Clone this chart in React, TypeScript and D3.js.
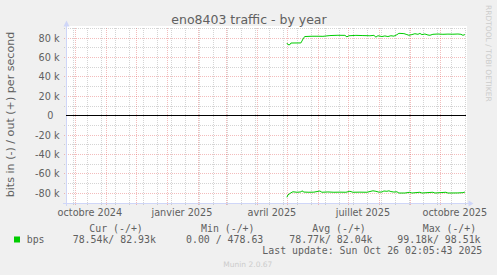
import React from "react";
import * as d3 from "d3";

const W = 497;
const H = 275;

const startTime = new Date(2024, 8, 21, 2, 5, 43);
const endTime = new Date(2025, 9, 26, 2, 5, 43);

// out (+) series, bits per second
const outDates = [
  "2025-04-30", "2025-05-01", "2025-05-03", "2025-05-04", "2025-05-14", "2025-05-15",
  "2025-05-17", "2025-05-18", "2025-05-25", "2025-06-01", "2025-06-05", "2025-06-12",
  "2025-06-20", "2025-06-27", "2025-06-29", "2025-07-01", "2025-07-08", "2025-07-15",
  "2025-07-22", "2025-07-26", "2025-07-28", "2025-07-30", "2025-08-03", "2025-08-06",
  "2025-08-09", "2025-08-12", "2025-08-15", "2025-08-18", "2025-08-20", "2025-08-25",
  "2025-08-28", "2025-08-30", "2025-09-02", "2025-09-05", "2025-09-08", "2025-09-10",
  "2025-09-12", "2025-09-15", "2025-09-18", "2025-09-20", "2025-09-23", "2025-09-28",
  "2025-10-03", "2025-10-08", "2025-10-13", "2025-10-18", "2025-10-21", "2025-10-23",
  "2025-10-25",
];
const outValues = [
  75000, 73300, 73300, 75000, 75100, 77000,
  80800, 81700, 82000, 82000, 81900, 82700,
  83000, 82900, 81400, 82500, 82900, 82700,
  82500, 82900, 81100, 82500, 81700, 82300,
  81700, 82500, 82100, 83600, 85000, 84700,
  83700, 83000, 83700, 84600, 84000, 84900,
  83700, 84300, 83300, 83000, 84000, 84300,
  84000, 84200, 84100, 84300, 84000, 83000,
  83700,
];

// in (-) series, bits per second (drawn below zero)
const inDates = [
  "2025-04-30", "2025-05-01", "2025-05-04", "2025-05-06", "2025-05-10", "2025-05-14",
  "2025-05-15", "2025-05-17", "2025-05-22", "2025-05-27", "2025-06-02", "2025-06-04",
  "2025-06-10", "2025-06-16", "2025-06-22", "2025-06-28", "2025-07-02", "2025-07-05",
  "2025-07-12", "2025-07-19", "2025-07-25", "2025-07-28", "2025-07-31", "2025-08-03",
  "2025-08-05", "2025-08-08", "2025-08-10", "2025-08-12", "2025-08-15", "2025-08-18",
  "2025-08-20", "2025-08-26", "2025-08-31", "2025-09-02", "2025-09-10", "2025-09-12",
  "2025-09-23", "2025-09-25", "2025-10-06", "2025-10-08", "2025-10-18", "2025-10-23",
  "2025-10-25",
];
const inValues = [
  84100, 81700, 79500, 78400, 78900, 78600,
  77400, 78700, 78900, 78800, 77600, 78900,
  78600, 78900, 78800, 78900, 77900, 78900,
  78800, 78900, 77400, 77900, 78800, 78600,
  77600, 77900, 77400, 78200, 78700, 78400,
  79700, 79700, 78900, 79700, 78900, 79700,
  78900, 79700, 78900, 79700, 79600, 79300,
  78700,
];

const yTickValues = [-80000, -60000, -40000, -20000, 0, 20000, 40000, 60000, 80000];
const yTickLabels = ["-80 k", "-60 k", "-40 k", "-20 k", "0", "20 k", "40 k", "60 k", "80 k"];
const yMinorValues = [-90000, -70000, -50000, -30000, -10000, 10000, 30000, 50000, 70000, 90000];

const xLabelDates = ["2024-10-15", "2025-01-15", "2025-04-15", "2025-07-15", "2025-10-15"];
const xLabelTexts = ["octobre 2024", "janvier 2025", "avril 2025", "juillet 2025", "octobre 2025"];

const legendHeaders = ["Cur (-/+)", "Min (-/+)", "Avg (-/+)", "Max (-/+)"];
const legendValues = ["78.54k/ 82.93k", "0.00 / 478.63", "78.77k/ 82.04k", "99.18k/ 98.51k"];
const legendSeries = "bps";
const lastUpdate = "Last update: Sun Oct 26 02:05:43 2025";
const titleText = "eno8403 traffic - by year";
const yAxisTitle = "bits in (-) / out (+) per second";

const parse = (s: string) => {
  const [y, m, d] = s.split("-").map(Number);
  return new Date(y, m - 1, d);
};

const FONT = "'DejaVu Sans', sans-serif";
const MONO = "'DejaVu Sans Mono', monospace";
const TXT = "#606060";
const GREEN = "#00cc00";
const AXIS = "#cfd6f8";
const MGRID = "rgba(224,80,80,0.38)";
const GRID = "rgba(160,160,160,0.45)";

export default function App() {
  const x = d3.scaleTime().domain([startTime, endTime]).range([66, 466]);
  const y = d3.scaleLinear().domain([-90500, 90500]).range([203.5, 28]);
  const crisp = (v: number) => Math.floor(v) + 0.5;

  const majorX = d3.timeMonth.range(startTime, endTime);
  const minorX = d3.range(0, 29)
    .map((i) => d3.timeDay.offset(new Date(2024, 8, 29), i * 14))
    .filter((d) => d > startTime && d < endTime);

  const line = d3.line<[Date, number]>()
    .x((d) => x(d[0]))
    .y((d) => y(d[1]))
    .curve(d3.curveLinear);

  const outPts: [Date, number][] = outDates.map((d, i) => [parse(d), outValues[i]]);
  const inPts: [Date, number][] = inDates.map((d, i) => [parse(d), -inValues[i]]);

  const legendHeaderX = [89.3, 201, 312.3, 422.7];
  const legendValueX = [72.7, 186, 289.3, 397.3];

  return (
    <svg width={W} height={H} style={{ position: "absolute", left: 0, top: 0 }}>
      <rect x={0} y={0} width={W} height={H} fill="#f0f0f0" />
      <rect x={66} y={26} width={401} height={177.5} fill="#ffffff" />

      {/* minor grid */}
      {yMinorValues.map((v) => (
        <line key={"hm" + v} x1={64} x2={466} y1={crisp(y(v))} y2={crisp(y(v))}
          stroke={GRID} strokeDasharray="1,1" />
      ))}
      {minorX.map((d) => (
        <line key={"vm" + d.getTime()} x1={crisp(x(d))} x2={crisp(x(d))} y1={28} y2={206}
          stroke={GRID} strokeDasharray="1,1" />
      ))}
      {/* major grid */}
      {yTickValues.filter((v) => v !== 0).map((v) => (
        <line key={"hM" + v} x1={64} x2={466} y1={crisp(y(v))} y2={crisp(y(v))}
          stroke={MGRID} strokeDasharray="1,1" />
      ))}
      {majorX.map((d) => (
        <line key={"vM" + d.getTime()} x1={crisp(x(d))} x2={crisp(x(d))} y1={28} y2={206}
          stroke={MGRID} strokeDasharray="1,1" />
      ))}

      {/* axes */}
      <line x1={63} x2={469} y1={203.5} y2={203.5} stroke={AXIS} />
      <polygon points="468.5,200.5 468.5,206.5 473.5,203.5" fill={AXIS} />
      <line x1={66.5} x2={66.5} y1={206} y2={25} stroke={AXIS} />
      <polygon points="63.5,26.5 69.5,26.5 66.5,20.5" fill={AXIS} />

      {/* zero line */}
      <line x1={66} x2={466} y1={crisp(y(0))} y2={crisp(y(0))} stroke="#000000" />

      {/* data */}
      <path d={line(outPts) || ""} fill="none" stroke={GREEN} strokeWidth={1} />
      <path d={line(inPts) || ""} fill="none" stroke={GREEN} strokeWidth={1} />

      {/* y tick labels */}
      {yTickValues.map((v, i) => (
        <text key={"yl" + v} x={v === 0 ? 53.5 : 59.5} y={y(v) + 3.5} textAnchor="end"
          fontFamily={FONT} fontSize={9.7} fill={TXT}>
          {yTickLabels[i]}
        </text>
      ))}

      {/* x labels */}
      {xLabelDates.map((d, i) => (
        <text key={"xl" + d} x={x(parse(d))} y={215.5} textAnchor="middle"
          fontFamily={FONT} fontSize={9.7} fill={TXT}>
          {xLabelTexts[i]}
        </text>
      ))}

      {/* title */}
      <text x={249} y={23.5} textAnchor="middle" fontFamily={FONT} fontSize={12.5} fill={TXT}>
        {titleText}
      </text>

      {/* vertical axis title */}
      <text transform="translate(13.5,114.5) rotate(-90)" textAnchor="middle"
        fontFamily={FONT} fontSize={11.1} fill={TXT}>
        {yAxisTitle}
      </text>

      {/* watermark right */}
      <text transform="translate(485.5,5) rotate(90)" textAnchor="start"
        fontFamily={FONT} fontSize={7.5} fill="#cccccc">
        RRDTOOL / TOBI OETIKER
      </text>

      {/* legend */}
      {legendHeaders.map((t, i) => (
        <text key={"lh" + i} x={legendHeaderX[i]} y={232} fontFamily={MONO} fontSize={9.9}
          fill={TXT} style={{ whiteSpace: "pre" }}>
          {t}
        </text>
      ))}
      <rect x={14} y={236.5} width={6} height={6} fill={GREEN} />
      <text x={26.7} y={243} fontFamily={MONO} fontSize={9.9} fill={TXT}>{legendSeries}</text>
      {legendValues.map((t, i) => (
        <text key={"lv" + i} x={legendValueX[i]} y={243} fontFamily={MONO} fontSize={9.9}
          fill={TXT} style={{ whiteSpace: "pre" }}>
          {t}
        </text>
      ))}
      <text x={482.3} y={254} textAnchor="end" fontFamily={MONO} fontSize={9.9} fill={TXT}
        style={{ whiteSpace: "pre" }}>
        {lastUpdate}
      </text>

      <text x={223.3} y={267} fontFamily={FONT} fontSize={7.5} fill="#cccccc">
        Munin 2.0.67
      </text>
    </svg>
  );
}
